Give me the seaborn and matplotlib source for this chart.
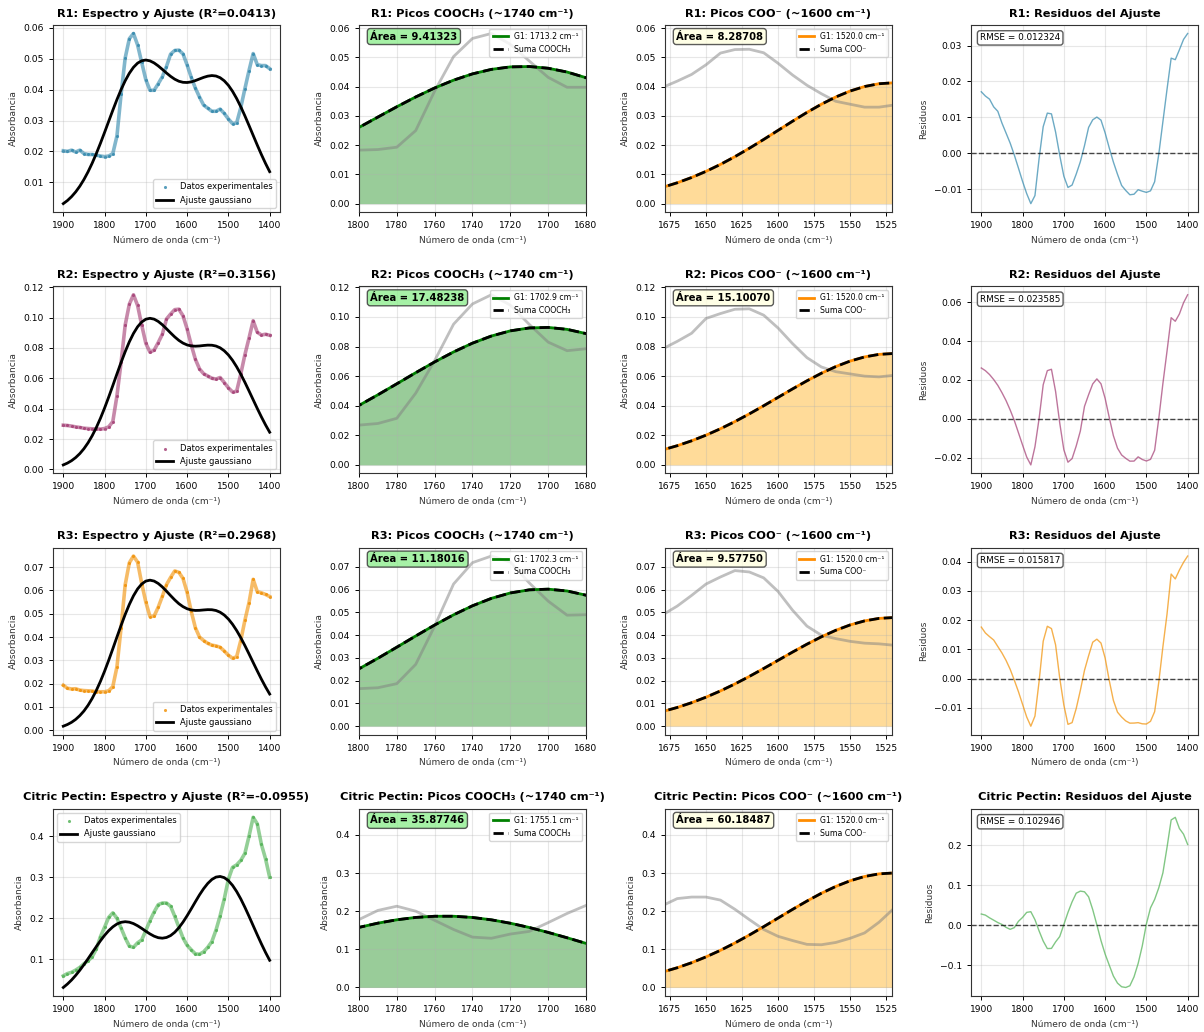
import numpy as np
import pandas as pd
import matplotlib
matplotlib.use("Agg")
import matplotlib.pyplot as plt
from matplotlib.ticker import MultipleLocator
import seaborn as sns

# ---------------- data ----------------
wavenumber = list(range(1900, 1399, -10))  # 1900 ... 1400 cm-1

samples = ["R1", "R2", "R3", "Citric Pectin"]
colors = ["#2E86AB", "#A23B72", "#F18F01", "#4CAF50"]
r2_text = ["0.0413", "0.3156", "0.2968", "-0.0955"]
rmse_text = ["0.012324", "0.023585", "0.015817", "0.102946"]
area_cooch3 = ["9.41323", "17.48238", "11.18016", "35.87746"]
area_coo = ["8.28708", "15.10070", "9.57750", "60.18487"]
center_cooch3 = ["1713.2", "1702.9", "1702.3", "1755.1"]
center_coo = ["1520.0", "1520.0", "1520.0", "1520.0"]

spec_r1 = [0.0202, 0.0200, 0.0204, 0.0198, 0.0204, 0.0193, 0.0190, 0.0190, 0.0188, 0.0185,
           0.0183, 0.0185, 0.0193, 0.0250, 0.0385, 0.0503, 0.0565, 0.0582, 0.0545, 0.0488,
           0.0432, 0.0398, 0.0398, 0.0419, 0.0442, 0.0475, 0.0515, 0.0527, 0.0528, 0.0516,
           0.0480, 0.0440, 0.0405, 0.0376, 0.0350, 0.0340, 0.0330, 0.0330, 0.0337, 0.0323,
           0.0305, 0.0290, 0.0292, 0.0342, 0.0403, 0.0462, 0.0517, 0.0481, 0.0478, 0.0478,
           0.0468]
spec_r2 = [0.0291, 0.0289, 0.0285, 0.0280, 0.0276, 0.0271, 0.0269, 0.0267, 0.0267, 0.0265,
           0.0269, 0.0280, 0.0315, 0.0485, 0.0705, 0.0951, 0.1088, 0.1150, 0.1080, 0.0950,
           0.0830, 0.0772, 0.0785, 0.0835, 0.0890, 0.0990, 0.1023, 0.1052, 0.1055, 0.1012,
           0.0925, 0.0820, 0.0725, 0.0662, 0.0630, 0.0615, 0.0600, 0.0595, 0.0605, 0.0572,
           0.0537, 0.0510, 0.0514, 0.0628, 0.0755, 0.0865, 0.0979, 0.0903, 0.0885, 0.0890,
           0.0883]
spec_r3 = [0.0193, 0.0180, 0.0177, 0.0178, 0.0172, 0.0170, 0.0169, 0.0168, 0.0165, 0.0165,
           0.0165, 0.0169, 0.0187, 0.0272, 0.0440, 0.0625, 0.0719, 0.0748, 0.0722, 0.0630,
           0.0550, 0.0488, 0.0490, 0.0528, 0.0575, 0.0625, 0.0656, 0.0684, 0.0678, 0.0652,
           0.0592, 0.0510, 0.0440, 0.0400, 0.0385, 0.0373, 0.0365, 0.0362, 0.0356, 0.0340,
           0.0322, 0.0309, 0.0315, 0.0385, 0.0472, 0.0548, 0.0648, 0.0595, 0.0590, 0.0583,
           0.0574]
spec_cp = [0.0594, 0.0650, 0.0680, 0.0735, 0.0800, 0.0890, 0.0960, 0.1060, 0.1250, 0.1550,
           0.1780, 0.2020, 0.2130, 0.2000, 0.1760, 0.1520, 0.1320, 0.1290, 0.1400, 0.1470,
           0.1700, 0.1940, 0.2150, 0.2330, 0.2370, 0.2370, 0.2290, 0.2050, 0.1780, 0.1520,
           0.1340, 0.1230, 0.1130, 0.1120, 0.1180, 0.1290, 0.1430, 0.1710, 0.2060, 0.2470,
           0.2950, 0.3240, 0.3300, 0.3410, 0.3580, 0.4000, 0.4460, 0.4300, 0.3800, 0.3450,
           0.3000]

# Gaussian component G1 of the COOCH3 band
ester_r1 = [0.00308, 0.00408, 0.00534, 0.00688, 0.00872, 0.01088, 0.01337, 0.01617, 0.01926, 0.02258,
            0.02606, 0.02961, 0.03313, 0.03649, 0.03956, 0.04223, 0.04438, 0.04592, 0.04677, 0.04690,
            0.04631, 0.04501, 0.04307, 0.04057, 0.03763, 0.03436, 0.03089, 0.02733, 0.02381, 0.02043,
            0.01725, 0.01434, 0.01174, 0.00946, 0.00751, 0.00586, 0.00451, 0.00341, 0.00254, 0.00186,
            0.00135, 0.00096, 0.00067, 0.00046, 0.00031, 0.00021, 0.00014, 0.00009, 0.00006, 0.00004,
            0.00002]
ester_r2 = [0.00294, 0.00414, 0.00572, 0.00777, 0.01037, 0.01359, 0.01749, 0.02212, 0.02748, 0.03354,
            0.04022, 0.04738, 0.05482, 0.06232, 0.06959, 0.07634, 0.08229, 0.08711, 0.09060, 0.09257,
            0.09292, 0.09162, 0.08876, 0.08446, 0.07896, 0.07251, 0.06542, 0.05798, 0.05048, 0.04318,
            0.03628, 0.02995, 0.02429, 0.01934, 0.01514, 0.01164, 0.00879, 0.00652, 0.00475, 0.00340,
            0.00240, 0.00165, 0.00112, 0.00075, 0.00049, 0.00032, 0.00020, 0.00012, 0.00008, 0.00005,
            0.00003]
ester_r3 = [0.00170, 0.00242, 0.00337, 0.00462, 0.00623, 0.00822, 0.01067, 0.01360, 0.01701, 0.02090,
            0.02521, 0.02986, 0.03473, 0.03966, 0.04447, 0.04896, 0.05293, 0.05619, 0.05857, 0.05994,
            0.06024, 0.05944, 0.05759, 0.05479, 0.05119, 0.04695, 0.04229, 0.03740, 0.03247, 0.02769,
            0.02318, 0.01906, 0.01538, 0.01219, 0.00949, 0.00725, 0.00544, 0.00401, 0.00290, 0.00206,
            0.00144, 0.00098, 0.00066, 0.00044, 0.00028, 0.00018, 0.00011, 0.00007, 0.00004, 0.00002,
            0.00001]
ester_cp = [0.0311, 0.0395, 0.0493, 0.0606, 0.0731, 0.0867, 0.1011, 0.1159, 0.1305, 0.1446,
            0.1575, 0.1686, 0.1774, 0.1836, 0.1867, 0.1867, 0.1835, 0.1773, 0.1684, 0.1573,
            0.1443, 0.1303, 0.1156, 0.1008, 0.0864, 0.0728, 0.0603, 0.0491, 0.0394, 0.0310,
            0.0240, 0.0182, 0.0136, 0.0100, 0.0072, 0.0051, 0.0036, 0.0025, 0.0017, 0.0011,
            0.0007, 0.0005, 0.0003, 0.0002, 0.0001, 0.0001, 0.0000, 0.0000, 0.0000, 0.0000,
            0.0000]

# Gaussian component G1 of the COO- band
carb_r1 = [0.00000, 0.00000, 0.00000, 0.00000, 0.00000, 0.00001, 0.00001, 0.00002, 0.00004, 0.00006,
           0.00009, 0.00014, 0.00021, 0.00031, 0.00046, 0.00066, 0.00094, 0.00132, 0.00182, 0.00246,
           0.00329, 0.00432, 0.00559, 0.00713, 0.00894, 0.01104, 0.01342, 0.01606, 0.01892, 0.02195,
           0.02507, 0.02818, 0.03120, 0.03400, 0.03647, 0.03852, 0.04006, 0.04101, 0.04133, 0.04101,
           0.04006, 0.03852, 0.03647, 0.03400, 0.03120, 0.02818, 0.02507, 0.02195, 0.01892, 0.01606,
           0.01342]
carb_r2 = [0.00000, 0.00000, 0.00000, 0.00001, 0.00001, 0.00002, 0.00003, 0.00004, 0.00007, 0.00011,
           0.00016, 0.00025, 0.00038, 0.00057, 0.00084, 0.00121, 0.00172, 0.00240, 0.00331, 0.00449,
           0.00599, 0.00788, 0.01019, 0.01298, 0.01629, 0.02011, 0.02445, 0.02926, 0.03447, 0.03999,
           0.04567, 0.05135, 0.05684, 0.06194, 0.06645, 0.07019, 0.07298, 0.07471, 0.07530, 0.07471,
           0.07298, 0.07019, 0.06645, 0.06194, 0.05684, 0.05135, 0.04567, 0.03999, 0.03447, 0.02926,
           0.02445]
carb_r3 = [0.00000, 0.00000, 0.00000, 0.00000, 0.00001, 0.00001, 0.00002, 0.00003, 0.00004, 0.00007,
           0.00010, 0.00016, 0.00024, 0.00036, 0.00053, 0.00077, 0.00109, 0.00152, 0.00210, 0.00285,
           0.00380, 0.00500, 0.00646, 0.00823, 0.01033, 0.01276, 0.01551, 0.01856, 0.02186, 0.02537,
           0.02897, 0.03257, 0.03605, 0.03929, 0.04215, 0.04452, 0.04629, 0.04739, 0.04776, 0.04739,
           0.04629, 0.04452, 0.04215, 0.03929, 0.03605, 0.03257, 0.02897, 0.02537, 0.02186, 0.01856,
           0.01551]
carb_cp = [0.0000, 0.0000, 0.0000, 0.0000, 0.0000, 0.0001, 0.0001, 0.0002, 0.0003, 0.0004,
           0.0007, 0.0010, 0.0015, 0.0023, 0.0033, 0.0048, 0.0068, 0.0096, 0.0132, 0.0179,
           0.0239, 0.0314, 0.0406, 0.0517, 0.0649, 0.0802, 0.0974, 0.1166, 0.1374, 0.1594,
           0.1820, 0.2046, 0.2265, 0.2469, 0.2648, 0.2797, 0.2909, 0.2978, 0.3001, 0.2978,
           0.2909, 0.2797, 0.2648, 0.2469, 0.2265, 0.2046, 0.1820, 0.1594, 0.1374, 0.1166,
           0.0974]

spectra = [spec_r1, spec_r2, spec_r3, spec_cp]
ester = [ester_r1, ester_r2, ester_r3, ester_cp]
carb = [carb_r1, carb_r2, carb_r3, carb_cp]
legend_loc = ["lower right", "lower right", "lower right", "upper left"]

# ---------------- figure ----------------
plt.rcParams["font.family"] = ["DejaVu Sans"]
fig, axes = plt.subplots(4, 4, figsize=(12.04, 10.32), dpi=100)
plt.subplots_adjust(left=0.044, right=0.995, top=0.9758, bottom=0.0349,
                    wspace=0.348, hspace=0.396)

TITLE = dict(fontsize=8.2, fontweight="bold")
LAB = 6.5
TICK = 6.6
XLAB = "Número de onda (cm⁻¹)"


def style(ax, ylabel):
    ax.set_xlabel(XLAB, fontsize=LAB, color="#333333")
    ax.set_ylabel(ylabel, fontsize=LAB, color="#333333")
    ax.tick_params(labelsize=TICK, length=3, width=0.7)
    ax.grid(True, alpha=0.3)
    for s in ax.spines.values():
        s.set_linewidth(0.8)
        s.set_color("#333333")


for i, name in enumerate(samples):
    df = pd.DataFrame({"wn": wavenumber, "absorb": spectra[i],
                       "g_ester": ester[i], "g_carb": carb[i]})
    df["fit"] = df["g_ester"] + df["g_carb"]
    df["resid"] = df["absorb"] - df["fit"]
    c = colors[i]

    # --- column 1: spectrum and fit
    ax = axes[i, 0]
    sns.lineplot(data=df, x="wn", y="absorb", ax=ax, color=c, lw=2.6, alpha=0.6,
                 estimator=None, sort=False, legend=False)
    sns.scatterplot(data=df, x="wn", y="absorb", ax=ax, color=c, s=5, alpha=0.8,
                    linewidth=0, label="Datos experimentales")
    sns.lineplot(data=df, x="wn", y="fit", ax=ax, color="black", lw=2,
                 estimator=None, sort=False, label="Ajuste gaussiano")
    ax.invert_xaxis()
    ax.set_title(f"{name}: Espectro y Ajuste (R²={r2_text[i]})", **TITLE)
    ax.legend(loc=legend_loc[i], fontsize=6, framealpha=0.8)
    style(ax, "Absorbancia")

    # --- column 2: COOCH3 peaks
    ax = axes[i, 1]
    sns.lineplot(data=df, x="wn", y="absorb", ax=ax, color="gray", lw=2, alpha=0.5,
                 estimator=None, sort=False, legend=False)
    ax.fill_between(df["wn"], 0, df["g_ester"], color="green", alpha=0.4, lw=0)
    sns.lineplot(data=df, x="wn", y="g_ester", ax=ax, color="green", lw=2,
                 estimator=None, sort=False, label=f"G1: {center_cooch3[i]} cm⁻¹")
    sns.lineplot(data=df, x="wn", y="g_ester", ax=ax, color="black", lw=2, linestyle="--",
                 estimator=None, sort=False, label="Suma COOCH₃")
    ax.set_xlim(1800, 1680)
    ax.set_title(f"{name}: Picos COOCH₃ (~1740 cm⁻¹)", **TITLE)
    ax.legend(loc="upper right", fontsize=5.6, framealpha=0.8)
    ax.text(0.05, 0.965, f"Área = {area_cooch3[i]}", transform=ax.transAxes,
            fontsize=7.2, fontweight="bold", va="top", ha="left",
            bbox=dict(boxstyle="round,pad=0.3", facecolor="lightgreen", alpha=0.8,
                      edgecolor="#333333"))
    style(ax, "Absorbancia")

    # --- column 3: COO- peaks
    ax = axes[i, 2]
    sns.lineplot(data=df, x="wn", y="absorb", ax=ax, color="gray", lw=2, alpha=0.5,
                 estimator=None, sort=False, legend=False)
    ax.fill_between(df["wn"], 0, df["g_carb"], color="orange", alpha=0.4, lw=0)
    sns.lineplot(data=df, x="wn", y="g_carb", ax=ax, color="darkorange", lw=2,
                 estimator=None, sort=False, label=f"G1: {center_coo[i]} cm⁻¹")
    sns.lineplot(data=df, x="wn", y="g_carb", ax=ax, color="black", lw=2, linestyle="--",
                 estimator=None, sort=False, label="Suma COO⁻")
    ax.set_xlim(1678.5, 1521)
    ax.xaxis.set_major_locator(MultipleLocator(25))
    ax.set_title(f"{name}: Picos COO⁻ (~1600 cm⁻¹)", **TITLE)
    ax.legend(loc="upper right", fontsize=5.6, framealpha=0.8)
    ax.text(0.05, 0.965, f"Área = {area_coo[i]}", transform=ax.transAxes,
            fontsize=7.2, fontweight="bold", va="top", ha="left",
            bbox=dict(boxstyle="round,pad=0.3", facecolor="lightyellow", alpha=0.8,
                      edgecolor="#333333"))
    style(ax, "Absorbancia")

    # --- column 4: residuals
    ax = axes[i, 3]
    sns.lineplot(data=df, x="wn", y="resid", ax=ax, color=c, lw=1, alpha=0.7,
                 estimator=None, sort=False, legend=False)
    ax.axhline(0, color="black", linestyle="--", lw=1, alpha=0.7)
    ax.invert_xaxis()
    ax.set_title(f"{name}: Residuos del Ajuste", **TITLE)
    ax.text(0.04, 0.955, f"RMSE = {rmse_text[i]}", transform=ax.transAxes,
            fontsize=6.4, va="top", ha="left",
            bbox=dict(boxstyle="round,pad=0.3", facecolor="white", alpha=0.8,
                      edgecolor="#333333"))
    style(ax, "Residuos")

fig.savefig("out.png", dpi=100)
